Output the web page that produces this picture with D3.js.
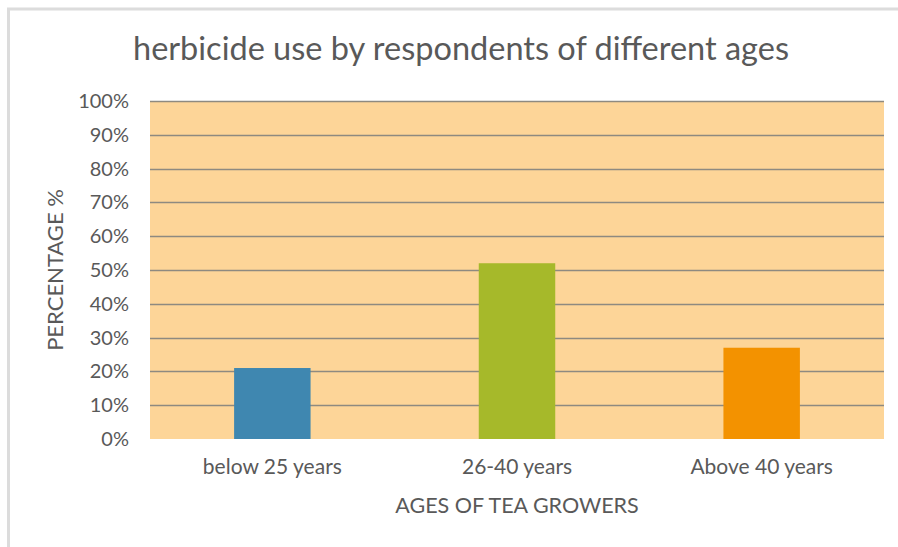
<!DOCTYPE html>
<html>
<head>
<meta charset="utf-8">
<script src="https://cdn.jsdelivr.net/npm/d3@7"></script>
<style>
  html, body { margin: 0; padding: 0; background: #ffffff; }
  svg { display: block; }
  text { font-family: Lato, "Open Sans", sans-serif; fill: #595959; }
</style>
</head>
<body>
<svg id="chart" width="898" height="547"></svg>
<script>
// Share of respondents using herbicide, by age group
const categories = ["below 25 years", "26-40 years", "Above 40 years"];
const values = [0.21, 0.52, 0.27];
const barColors = ["#3F87B0", "#A6B92A", "#F39200"];
const yTicks = [0, 0.1, 0.2, 0.3, 0.4, 0.5, 0.6, 0.7, 0.8, 0.9, 1.0];

const chartTitle = "herbicide use by respondents of different ages";
const xTitle = "AGES OF TEA GROWERS";
const yTitle = "PERCENTAGE %";

const W = 898, H = 547;
const plot = { left: 150, right: 884, top: 101, bottom: 439 };

const svg = d3.select("#chart");

// light frame on the top and left edges
svg.append("line").attr("x1", 7).attr("x2", W).attr("y1", 9).attr("y2", 9)
  .attr("stroke", "#dcdcdc").attr("stroke-width", 3);
svg.append("line").attr("x1", 8.5).attr("x2", 8.5).attr("y1", 8).attr("y2", H)
  .attr("stroke", "#dcdcdc").attr("stroke-width", 3);

const x = d3.scaleBand().domain(categories).range([plot.left, plot.right]).padding(0);
const y = d3.scaleLinear().domain([0, 1]).range([plot.bottom, plot.top]);

// plot background
svg.append("rect")
  .attr("x", plot.left).attr("y", plot.top)
  .attr("width", plot.right - plot.left).attr("height", plot.bottom - plot.top)
  .attr("fill", "#FDD598");

// horizontal gridlines
svg.append("g").selectAll("line").data(yTicks.filter(d => d > 0)).join("line")
  .attr("x1", plot.left).attr("x2", plot.right)
  .attr("y1", d => Math.round(y(d)) + 0.5).attr("y2", d => Math.round(y(d)) + 0.5)
  .attr("stroke", "#8E8A80").attr("stroke-width", 1.6);

// bars
const barW = x.bandwidth() * 0.3125;
svg.append("g").selectAll("rect").data(values).join("rect")
  .attr("x", (d, i) => x(categories[i]) + (x.bandwidth() - barW) / 2)
  .attr("y", d => y(d))
  .attr("width", barW)
  .attr("height", d => y(0) - y(d))
  .attr("fill", (d, i) => barColors[i]);

// y axis labels
const yAxis = d3.axisLeft(y).tickValues(yTicks).tickFormat(d3.format(".0%")).tickSize(0).tickPadding(21);
const gy = svg.append("g").attr("transform", `translate(${plot.left},0)`).call(yAxis);
gy.select(".domain").remove();
gy.selectAll("text").style("font-size", "20px").attr("fill", "#595959")
  .style("font-family", "Lato, 'Open Sans', sans-serif");

// x axis labels
const xAxis = d3.axisBottom(x).tickSize(0).tickPadding(20);
const gx = svg.append("g").attr("transform", `translate(0,${plot.bottom})`).call(xAxis);
gx.select(".domain").remove();
gx.selectAll("text").style("font-size", "21px").attr("fill", "#595959")
  .style("font-family", "Lato, 'Open Sans', sans-serif");

// titles
svg.append("text").attr("x", 461).attr("y", 60).attr("text-anchor", "middle")
  .style("font-size", "32.5px").text(chartTitle);
svg.append("text").attr("x", 517).attr("y", 513).attr("text-anchor", "middle")
  .style("font-size", "21.5px").text(xTitle);
svg.append("text").attr("transform", "translate(63,270) rotate(-90)").attr("text-anchor", "middle")
  .style("font-size", "22px").text(yTitle);
</script>
</body>
</html>
